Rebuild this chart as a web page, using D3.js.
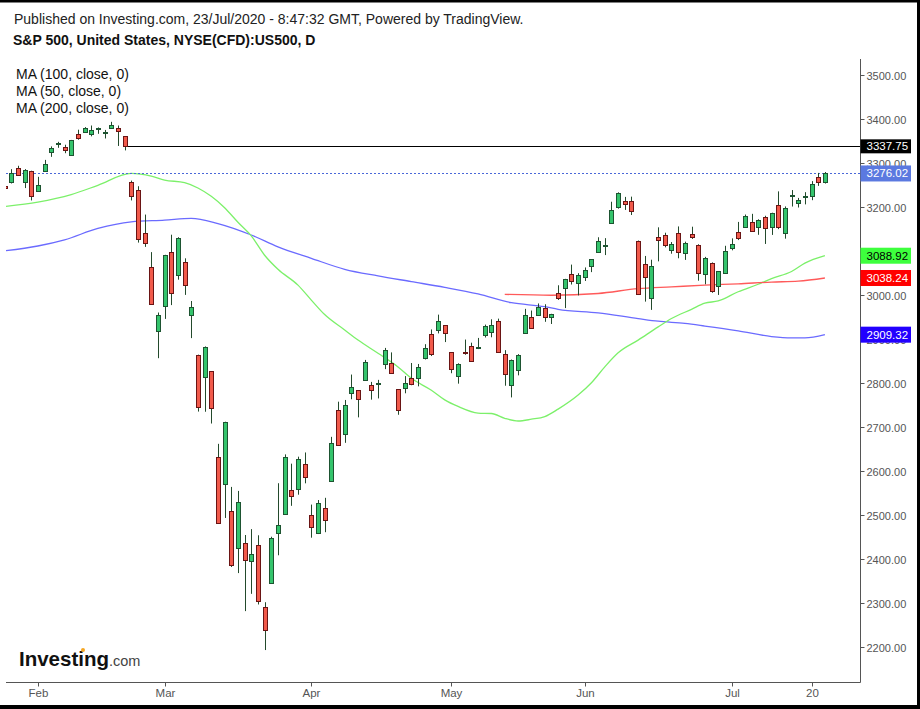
<!DOCTYPE html>
<html>
<head>
<meta charset="utf-8">
<script src="https://cdn.jsdelivr.net/npm/d3@7"></script>
<style>
  body { margin: 0; background: #fff; }
  svg { display: block; font-family: "Liberation Sans", Arial, sans-serif; }
</style>
</head>
<body>
<svg id="chart" width="920" height="709"></svg>
<script>
// Daily bars, 27 Jan 2020 .. 22 Jul 2020 (one entry per trading day)
const dates = [
  "2020-01-27","2020-01-28","2020-01-29","2020-01-30","2020-01-31",
  "2020-02-03","2020-02-04","2020-02-05","2020-02-06","2020-02-07",
  "2020-02-10","2020-02-11","2020-02-12","2020-02-13","2020-02-14",
  "2020-02-18","2020-02-19","2020-02-20","2020-02-21",
  "2020-02-24","2020-02-25","2020-02-26","2020-02-27","2020-02-28",
  "2020-03-02","2020-03-03","2020-03-04","2020-03-05","2020-03-06",
  "2020-03-09","2020-03-10","2020-03-11","2020-03-12","2020-03-13",
  "2020-03-16","2020-03-17","2020-03-18","2020-03-19","2020-03-20",
  "2020-03-23","2020-03-24","2020-03-25","2020-03-26","2020-03-27",
  "2020-03-30","2020-03-31",
  "2020-04-01","2020-04-02","2020-04-03",
  "2020-04-06","2020-04-07","2020-04-08","2020-04-09",
  "2020-04-13","2020-04-14","2020-04-15","2020-04-16","2020-04-17",
  "2020-04-20","2020-04-21","2020-04-22","2020-04-23","2020-04-24",
  "2020-04-27","2020-04-28","2020-04-29","2020-04-30",
  "2020-05-01",
  "2020-05-04","2020-05-05","2020-05-06","2020-05-07","2020-05-08",
  "2020-05-11","2020-05-12","2020-05-13","2020-05-14","2020-05-15",
  "2020-05-18","2020-05-19","2020-05-20","2020-05-21","2020-05-22",
  "2020-05-26","2020-05-27","2020-05-28","2020-05-29",
  "2020-06-01","2020-06-02","2020-06-03","2020-06-04","2020-06-05",
  "2020-06-08","2020-06-09","2020-06-10","2020-06-11","2020-06-12",
  "2020-06-15","2020-06-16","2020-06-17","2020-06-18","2020-06-19",
  "2020-06-22","2020-06-23","2020-06-24","2020-06-25","2020-06-26",
  "2020-06-29","2020-06-30",
  "2020-07-01","2020-07-02",
  "2020-07-06","2020-07-07","2020-07-08","2020-07-09","2020-07-10",
  "2020-07-13","2020-07-14","2020-07-15","2020-07-16","2020-07-17",
  "2020-07-20","2020-07-21","2020-07-22"
];

const open = [
  3247.2,3255.4,3289.5,3256.5,3282.3, 3235.7,3280.6,3324.9,3344.9,3335.5,
  3318.3,3365.9,3370.5,3365.9,3378.1, 3369.0,3380.4,3380.5,3360.5,
  3257.6,3238.9,3139.9,3062.5,2916.9, 2974.3,3096.5,3045.8,3075.7,2954.2,
  2863.9,2813.5,2825.6,2630.9,2570.0, 2508.6,2425.7,2436.5,2393.5,2431.9,
  2290.7,2344.4,2457.8,2501.3,2555.9, 2559.0,2614.7,
  2498.1,2458.5,2514.9, 2578.3,2738.7,2685.0,2777.0,
  2782.5,2805.1,2795.6,2799.3,2842.4, 2845.6,2784.8,2787.9,2810.4,2812.6,
  2854.7,2910.0,2918.5,2930.9, 2869.1,
  2815.0,2868.9,2883.1,2878.3,2908.8, 2915.5,2939.5,2865.9,2794.5,2830.0,
  2913.9,2948.6,2953.6,2970.0,2948.1, 3004.1,3015.7,3046.6,3025.2,
  3038.8,3064.8,3098.9,3111.6,3163.8, 3199.9,3213.3,3213.4,3123.5,3071.0,
  2993.8,3131.0,3136.1,3101.6,3140.3, 3094.4,3138.7,3114.4,3046.6,3073.2,
  3018.6,3050.2, 3105.9,3143.6,
  3155.3,3166.4,3153.1,3176.2,3152.5, 3205.1,3141.1,3226.0,3208.4,3224.2,
  3224.3,3268.5,3254.9
];

const high = [
  3258.9,3285.8,3293.5,3285.9,3282.3, 3268.4,3306.9,3337.6,3348.0,3341.4,
  3352.3,3375.6,3381.5,3385.1,3380.7, 3375.0,3393.5,3385.1,3360.8,
  3259.8,3247.0,3182.5,3097.1,2959.7, 3091.0,3136.7,3131.0,3083.0,2985.9,
  2863.9,2882.6,2825.6,2661.0,2711.3, 2563.0,2553.9,2453.6,2467.0,2453.0,
  2300.7,2449.7,2571.4,2637.0,2615.9, 2631.8,2641.4,
  2522.8,2533.2,2538.2, 2676.9,2756.9,2760.8,2818.6,
  2782.5,2851.9,2801.9,2806.5,2879.2, 2869.0,2785.5,2815.1,2844.9,2842.7,
  2887.7,2921.2,2954.9,2930.9, 2869.1,
  2844.2,2898.2,2891.1,2901.9,2932.2, 2944.3,2945.8,2874.1,2852.8,2865.0,
  2968.1,2964.2,2980.3,2978.5,2956.8, 3021.7,3036.3,3068.7,3049.2,
  3062.2,3081.1,3130.9,3128.9,3211.7, 3233.1,3222.7,3223.3,3123.5,3088.4,
  3079.8,3153.5,3141.2,3120.0,3155.5, 3120.9,3154.9,3115.0,3086.3,3073.7,
  3053.9,3111.5, 3128.4,3165.8,
  3182.6,3184.2,3171.8,3179.8,3186.8, 3235.3,3201.0,3238.3,3220.4,3233.5,
  3258.6,3277.3,3279.3
];

const low = [
  3234.5,3253.2,3271.9,3242.8,3214.7, 3235.7,3280.6,3313.8,3334.4,3322.1,
  3317.8,3352.7,3369.7,3360.5,3366.2, 3355.6,3378.8,3338.6,3328.5,
  3214.7,3118.8,3109.0,2977.4,2855.8, 2945.2,2976.6,3034.4,2999.8,2901.5,
  2734.4,2734.0,2707.2,2478.9,2492.4, 2380.9,2367.0,2280.5,2319.8,2295.6,
  2191.9,2344.4,2407.5,2500.7,2520.0, 2545.3,2571.2,
  2447.5,2455.8,2460.0, 2574.6,2657.7,2663.3,2762.4,
  2721.2,2805.1,2761.5,2764.3,2830.9, 2820.4,2727.1,2776.0,2794.3,2791.8,
  2852.9,2860.7,2912.2,2892.5, 2821.6,
  2797.9,2863.6,2847.7,2876.5,2902.9, 2903.4,2869.6,2793.2,2766.6,2816.8,
  2913.9,2922.4,2953.6,2938.6,2933.6, 2988.2,2969.8,3023.4,2998.6,
  3031.5,3051.6,3098.9,3090.4,3163.8, 3196.0,3193.1,3181.5,2999.5,2984.5,
  2965.7,3076.1,3108.0,3093.5,3083.1, 3079.4,3127.1,3032.1,3024.0,3004.6,
  2999.7,3047.8, 3101.2,3124.5,
  3155.3,3142.9,3136.5,3115.7,3136.2, 3149.4,3127.7,3200.8,3198.6,3205.7,
  3215.2,3247.8,3253.1
];

const close = [
  3243.6,3276.2,3273.4,3283.7,3225.5, 3248.9,3297.6,3334.7,3345.8,3327.7,
  3352.1,3357.8,3379.5,3373.9,3380.2, 3370.3,3386.2,3373.2,3337.75,
  3225.9,3128.2,3116.4,2978.8,2954.2, 3090.2,3003.4,3130.1,3023.9,2972.4,
  2746.6,2882.2,2741.4,2480.6,2711.0, 2386.1,2529.2,2398.1,2409.4,2304.9,
  2237.4,2447.3,2475.6,2630.1,2541.5, 2626.7,2584.6,
  2470.5,2526.9,2488.7, 2663.7,2659.4,2750.0,2789.8,
  2761.6,2846.1,2783.4,2799.6,2874.6, 2823.2,2736.6,2799.3,2797.8,2836.7,
  2878.5,2863.4,2939.5,2912.4, 2830.7,
  2842.7,2868.4,2848.4,2881.2,2929.8, 2930.3,2870.1,2820.0,2852.5,2863.7,
  2953.9,2922.9,2971.6,2948.5,2955.5, 2991.8,3036.1,3029.7,3044.3,
  3055.7,3080.8,3122.9,3112.4,3193.9, 3232.4,3207.2,3190.1,3002.1,3041.3,
  3066.6,3124.7,3113.5,3115.3,3097.7, 3117.9,3131.3,3050.3,3083.8,3009.1,
  3053.2,3100.3, 3115.9,3130.0,
  3179.7,3145.3,3169.9,3152.1,3185.0, 3155.2,3197.5,3226.6,3215.6,3224.7,
  3251.8,3257.3,3276.02
];

// moving averages: [bar index, value]
const ma50 = [
  [0,3201],[5,3211],[10,3228],[14,3249],[19,3276],[22,3270],[24,3261],[27,3255],
  [29,3243],[31,3224],[33,3198],[35,3165],[37,3134],[39,3090],[41,3058],[44,3022],
  [46,2988],[48,2955],[51,2920],[53,2897],[56,2867],[59,2836],[61,2810],[64,2783],
  [66,2761],[68,2746],[71,2731],[73,2730],[75,2719],[77,2713],[79,2717],[81,2723],
  [83,2740],[86,2772],[88,2800],[90,2836],[92,2868],[95,2897],[98,2927],[100,2946],
  [103,2967],[105,2981],[107,2986],[110,3007],[113,3024],[115,3037],[118,3053],
  [120,3072],[123,3088.92]
];
const ma100 = [
  [0,3100],[5,3111],[9,3125],[14,3151],[19,3166],[24,3170],[28,3174],[32,3162],
  [37,3136],[41,3109],[46,3083],[51,3058],[56,3043],[61,3030],[66,3017],[71,3002],
  [76,2982],[81,2973],[83,2967],[89,2959],[95,2946],[98,2940],[102,2935],[105,2929],
  [110,2918],[115,2905],[118,2902],[120,2902],[123,2909.32]
];
const ma200 = [
  [75,3001],[82,2999],[89,3003],[95,3014],[100,3018],[105,3022],[110,3025],
  [115,3029],[119,3031],[123,3038.24]
];

const yTicks = [2200, 2300, 2400, 2500, 2600, 2700, 2800, 2900, 3000, 3100, 3200, 3300, 3400, 3500];
const xTickDates = ["2020-02-03","2020-03-02","2020-04-01","2020-05-01","2020-06-01","2020-07-01","2020-07-20"];
const xTickLabels = ["Feb","Mar","Apr","May","Jun","Jul","20"];

const resistance = 3337.75;   // drawn from the 21 Feb close
const lastPrice = 3276.02;

const legend = ["MA (100, close, 0)", "MA (50, close, 0)", "MA (200, close, 0)"];

// ---------------------------------------------------------------
const svg = d3.select('#chart');
const plot = { left: 6, right: 860.5, top: 59, bottom: 682.5 };

const x = d3.scaleLinear().domain([0, 123]).range([4.5, 824.9]);
const y = d3.scaleLinear().domain([2200, 3500]).range([646.5, 75]);

const candles = dates.map((d, i) => ({ i, date: d, o: open[i], h: high[i], l: low[i], c: close[i] }));
const idx = new Map(dates.map((d, i) => [d, i]));

svg.append('rect').attr('width', 920).attr('height', 709).attr('fill', '#fff');

svg.append('clipPath').attr('id', 'clip')
  .append('rect')
    .attr('x', plot.left).attr('y', plot.top)
    .attr('width', plot.right - plot.left).attr('height', plot.bottom - plot.top);

const g = svg.append('g').attr('clip-path', 'url(#clip)');

// moving averages
const line = d3.line()
  .x(d => x(d[0]))
  .y(d => y(d[1]))
  .curve(d3.curveMonotoneX);

[[ma100, '#6b6bff'], [ma50, '#7cf06a'], [ma200, '#ff5a5a']].forEach(([data, col]) => {
  g.append('path')
    .attr('d', line(data))
    .attr('fill', 'none')
    .attr('stroke', col)
    .attr('stroke-width', 1.3);
});

// last price dotted line
g.append('line')
  .attr('x1', plot.left).attr('x2', plot.right)
  .attr('y1', Math.round(y(lastPrice)) + 0.5).attr('y2', Math.round(y(lastPrice)) + 0.5)
  .attr('stroke', '#4a68d8')
  .attr('stroke-dasharray', '2,2');

// resistance line from the 21 Feb bar
g.append('line')
  .attr('x1', x(idx.get('2020-02-21'))).attr('x2', plot.right)
  .attr('y1', Math.round(y(resistance)) + 0.5).attr('y2', Math.round(y(resistance)) + 0.5)
  .attr('stroke', '#000');

// candles
const cx = d => Math.round(x(d.i)) + 0.5;

g.selectAll('.wick')
  .data(candles)
  .join('line')
    .attr('class', 'wick')
    .attr('x1', cx).attr('x2', cx)
    .attr('y1', d => y(d.h)).attr('y2', d => y(d.l))
    .attr('stroke', '#234a2c')
    .attr('stroke-width', 1);

g.selectAll('.body')
  .data(candles)
  .join('rect')
    .attr('class', 'body')
    .attr('x', d => cx(d) - 2)
    .attr('y', d => Math.round(y(Math.max(d.o, d.c))) + 0.5)
    .attr('width', 4)
    .attr('height', d => Math.max(1, Math.round(Math.abs(y(d.o) - y(d.c)))))
    .attr('fill', d => d.c >= d.o ? '#34c46c' : '#f15a4b')
    .attr('stroke', d => d.c >= d.o ? '#1d5431' : '#6a1414')
    .attr('stroke-width', 1);

// axes lines
svg.append('line')
  .attr('x1', plot.left).attr('x2', plot.right)
  .attr('y1', plot.bottom).attr('y2', plot.bottom)
  .attr('stroke', '#555');
svg.append('line')
  .attr('x1', plot.right).attr('x2', plot.right)
  .attr('y1', plot.top).attr('y2', plot.bottom)
  .attr('stroke', '#555');

// y ticks
const yt = svg.append('g');
yTicks.forEach(v => {
  const yy = Math.round(y(v)) + 0.5;
  yt.append('line').attr('x1', plot.right).attr('x2', plot.right + 4)
    .attr('y1', yy).attr('y2', yy).attr('stroke', '#555');
  yt.append('text').attr('x', 866.5).attr('y', yy + 4)
    .attr('font-size', 11).attr('fill', '#555')
    .text(d3.format('.2f')(v));
});

// x ticks
xTickDates.forEach((d, k) => {
  const xx = Math.round(x(idx.get(d))) + 0.5;
  svg.append('line').attr('x1', xx).attr('x2', xx)
    .attr('y1', plot.bottom).attr('y2', plot.bottom + 4).attr('stroke', '#555');
  svg.append('text').attr('x', xx).attr('y', 697)
    .attr('text-anchor', 'middle').attr('font-size', 11.5).attr('fill', '#555')
    .text(xTickLabels[k]);
});

// price labels on the right axis
const priceTags = [
  { v: resistance, bg: '#000000', fg: '#ffffff', h: 14 },
  { v: lastPrice, bg: '#5b79e0', fg: '#ffffff', h: 16 },
  { v: ma50[ma50.length - 1][1], bg: '#3dff3d', fg: '#000000', h: 16 },
  { v: ma200[ma200.length - 1][1], bg: '#ff0000', fg: '#ffffff', h: 16 },
  { v: ma100[ma100.length - 1][1], bg: '#2200ff', fg: '#ffffff', h: 16 }
];
priceTags.forEach(t => {
  const yy = y(t.v);
  svg.append('rect').attr('x', plot.right).attr('y', yy - t.h / 2)
    .attr('width', 50.5).attr('height', t.h).attr('fill', t.bg);
  svg.append('text').attr('x', 866.5).attr('y', yy + 4)
    .attr('font-size', 11.5).attr('fill', t.fg)
    .text(d3.format('.2f')(t.v));
});

// header texts
svg.append('text').attr('x', 14).attr('y', 24)
  .attr('font-size', 14).attr('fill', '#222')
  .text('Published on Investing.com, 23/Jul/2020 - 8:47:32 GMT, Powered by TradingView.');
svg.append('text').attr('x', 13).attr('y', 45)
  .attr('font-size', 14).attr('font-weight', 'bold').attr('fill', '#111')
  .text('S&P 500, United States, NYSE(CFD):US500, D');

legend.forEach((s, k) => {
  svg.append('text').attr('x', 16).attr('y', 79 + k * 17)
    .attr('font-size', 14).attr('fill', '#111')
    .text(s);
});

// Investing.com logo
const logo = svg.append('text').attr('x', 19).attr('y', 666);
logo.append('tspan')
  .attr('font-size', 21).attr('font-weight', 'bold').attr('fill', '#111')
  .attr('textLength', 90).attr('lengthAdjust', 'spacingAndGlyphs')
  .text('Investing');
logo.append('tspan')
  .attr('font-size', 14.5).attr('fill', '#444')
  .text('.com');
svg.append('circle').attr('cx', 83).attr('cy', 650).attr('r', 2).attr('fill', '#f5a623');

// frame
svg.append('rect').attr('x', 0).attr('y', 0).attr('width', 920).attr('height', 2.5).attr('fill', '#000');
svg.append('rect').attr('x', 917).attr('y', 0).attr('width', 3).attr('height', 709).attr('fill', '#000');
svg.append('rect').attr('x', 0).attr('y', 705).attr('width', 920).attr('height', 4).attr('fill', '#000');
</script>
</body>
</html>
